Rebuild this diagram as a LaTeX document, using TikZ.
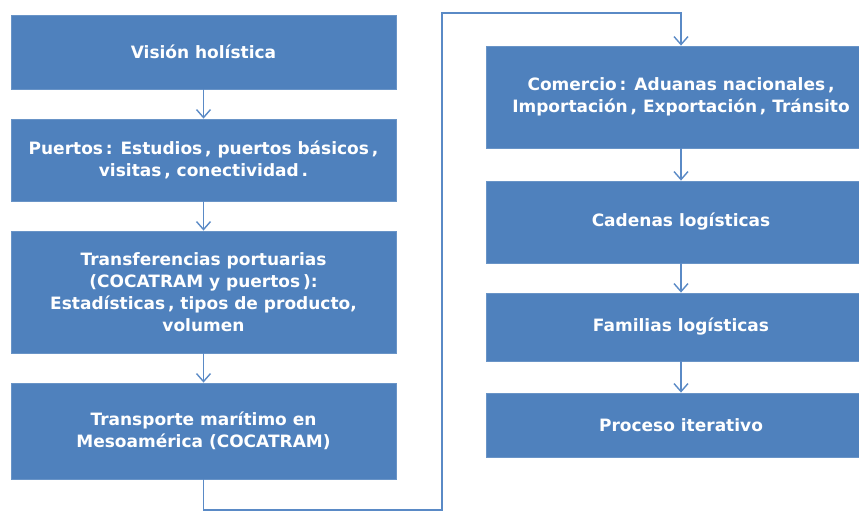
\documentclass[tikz,border=0pt]{standalone}
\usepackage{fontspec}
\newfontfamily\boxfont{DejaVu Sans}
\usetikzlibrary{arrows.meta}
\definecolor{boxblue}{HTML}{4F81BD}
\definecolor{linkblue}{HTML}{5A8AC6}
\tikzset{
  box/.style={rectangle, fill=boxblue, draw=boxblue!85!white, line width=0.8pt, text=white,
    align=center, inner sep=0pt, font=\boxfont\bfseries\fontsize{17}{22}\selectfont},
  lbox/.style={box, minimum width=385pt},
  rbox/.style={box, minimum width=390pt},
  link/.style={draw=linkblue, line width=1.4pt, -{Straight Barb[length=8pt,width=14pt,line width=1.4pt]}}
}
\begin{document}
\begin{tikzpicture}[x=1pt,y=-1pt]
\useasboundingbox (0,0) rectangle (859,512);
\node[lbox, minimum height=74pt] (b1) at (203.5,52) {Visión holística};
\node[lbox, minimum height=82pt] (b2) at (203.5,160) {Puertos\,: Estudios\,, puertos básicos\,,\\ visitas\,, conectividad\,.};
\node[lbox, minimum height=122pt] (b3) at (203.5,292) {Transferencias portuarias\\ (COCATRAM y puertos\,):\\ Estadísticas\,, tipos de producto,\\ volumen};
\node[lbox, minimum height=96pt] (b4) at (203.5,431) {Transporte marítimo en\\ Mesoamérica (COCATRAM)};
\node[rbox, minimum height=102pt] (b5) at (681,97) {Comercio\,: Aduanas nacionales\,,\\ Importación\,, Exportación\,, Tránsito};
\node[rbox, minimum height=82pt] (b6) at (681,222) {Cadenas logísticas};
\node[rbox, minimum height=68pt] (b7) at (681,327) {Familias logísticas};
\node[rbox, minimum height=64pt] (b8) at (681,425) {Proceso iterativo};
\draw[link] (b1) -- (b2);
\draw[link] (b2) -- (b3);
\draw[link] (b3) -- (b4);
\draw[link] (b5) -- (b6);
\draw[link] (b6) -- (b7);
\draw[link] (b7) -- (b8);
\coordinate (c1) at (203.5,510);
\coordinate (c2) at (442,510);
\coordinate (c3) at (442,13);
\coordinate (c4) at (681,13);
\draw[link] (b4.south) -- (c1) -- (c2) -- (c3) -- (c4) -- (b5.north);
\end{tikzpicture}
\end{document}
